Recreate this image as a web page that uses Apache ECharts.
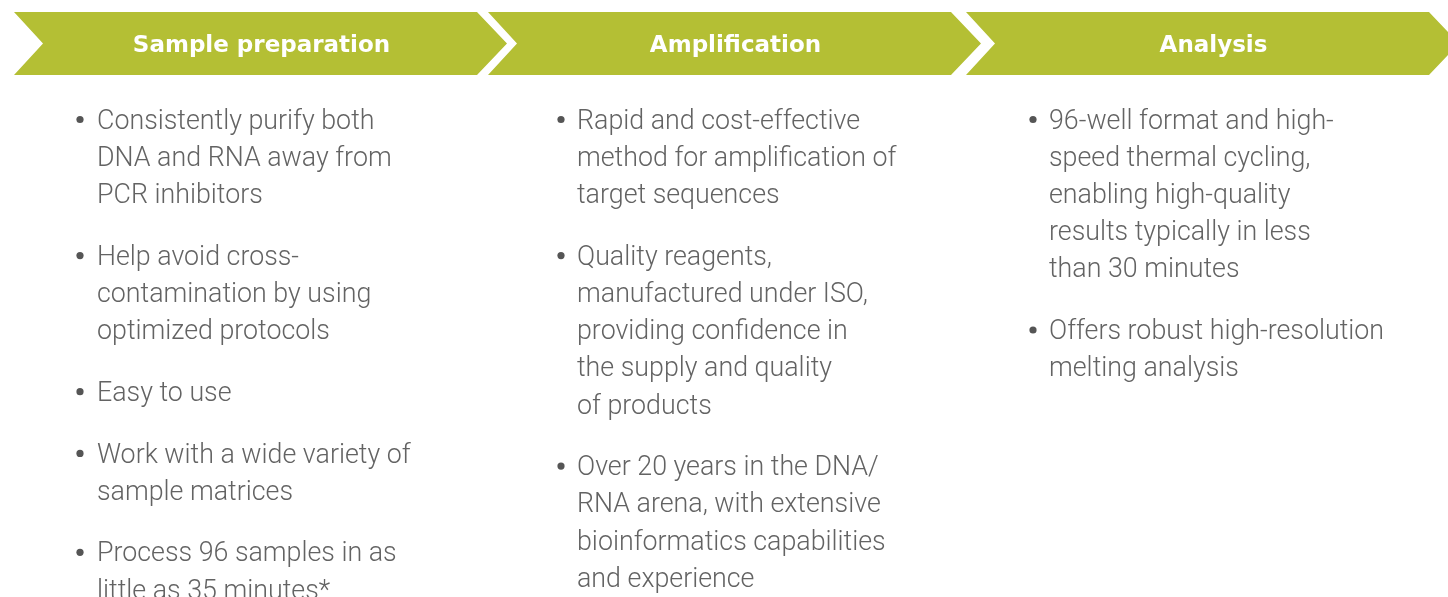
<!DOCTYPE html>
<html><head><meta charset="utf-8">
<script src="https://cdn.jsdelivr.net/npm/echarts@6/dist/echarts.min.js"></script>
<style>html,body{margin:0;padding:0;background:#fff;}#c{width:1448px;height:597px;}</style>
</head><body><div id="c"></div>
<script>
const stages = ['Sample preparation', 'Amplification', 'Analysis'];
const bulletsSample = [
  ['Consistently purify both', 'DNA and RNA away from', 'PCR inhibitors'],
  ['Help avoid cross-', 'contamination by using', 'optimized protocols'],
  ['Easy to use'],
  ['Work with a wide variety of', 'sample matrices'],
  ['Process 96 samples in as', 'little as 35 minutes*']
];
const bulletsAmplification = [
  ['Rapid and cost-effective', 'method for amplification of', 'target sequences'],
  ['Quality reagents,', 'manufactured under ISO,', 'providing confidence in', 'the supply and quality', 'of products'],
  ['Over 20 years in the DNA/', 'RNA arena, with extensive', 'bioinformatics capabilities', 'and experience']
];
const bulletsAnalysis = [
  ['96-well format and high-', 'speed thermal cycling,', 'enabling high-quality', 'results typically in less', 'than 30 minutes'],
  ['Offers robust high-resolution', 'melting analysis']
];
const stageBullets = [bulletsSample, bulletsAmplification, bulletsAnalysis];

(function () {
const GREEN = '#b4bf34';
const TEXT = '#636363';
const chart = echarts.init(document.getElementById('c'), null, {renderer: 'canvas'});

const els = [];
const x0 = [14, 488, 966];
const bodyW = 463, tipW = 30, yTop = 12, yBot = 75, yMid = 43.5;
stages.forEach((s, i) => {
  const L = x0[i], R = L + bodyW;
  els.push({
    type: 'polygon',
    shape: {points: [[L, yTop], [R, yTop], [R + tipW, yMid], [R, yBot], [L, yBot], [L + tipW - 1, yMid]]},
    style: {fill: GREEN}
  });
  els.push({
    type: 'text',
    style: {text: s, x: (L + R + tipW) / 2 + 1, y: yMid + 2.5, textAlign: 'center', textVerticalAlign: 'middle',
      font: 'bold 23px "DejaVu Sans", "Liberation Sans", sans-serif', fill: '#ffffff'}
  });
});

const bulletX = [80, 561, 1033];
const textX = [97, 577, 1049];
const lineH = 37.2, paraGap = 24.5, firstY = 122;
stageBullets.forEach((list, i) => {
  let y = firstY;
  list.forEach(lines => {
    els.push({type: 'circle', shape: {cx: bulletX[i], cy: y - 2.5, r: 3.6}, style: {fill: '#555555'}});
    lines.forEach(line => {
      els.push({
        type: 'text',
        style: {text: line, x: textX[i], y: y, textAlign: 'left', textVerticalAlign: 'middle',
          font: '300 26.8px Roboto, "Liberation Sans", sans-serif', fill: TEXT}
      });
      y += lineH;
    });
    y += paraGap;
  });
});

chart.setOption({animation: false, graphic: {elements: els}});
})();
</script></body></html>
